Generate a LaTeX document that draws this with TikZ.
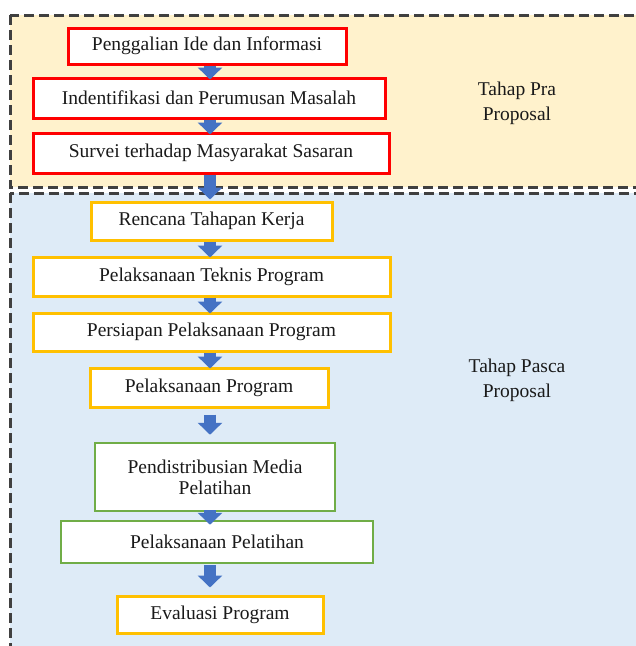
\documentclass[tikz,border=0pt]{standalone}
\usepackage{fontspec}
\setmainfont{Liberation Serif}
\usepackage{xcolor}
\usetikzlibrary{arrows.meta}
\tikzset{font={\fontsize{19.5pt}{21pt}\selectfont}}
\definecolor{prafill}{HTML}{FFF2CC}
\definecolor{pascafill}{HTML}{DEEBF7}
\definecolor{framegray}{HTML}{404040}
\definecolor{boxred}{HTML}{FF0000}
\definecolor{boxyellow}{HTML}{FFC000}
\definecolor{boxgreen}{HTML}{70AD47}
\definecolor{flowblue}{HTML}{4472C4}
\definecolor{inktext}{HTML}{1A1A1A}

\begin{document}
\begin{tikzpicture}[x=1pt,y=-1pt,
stagebox/.style={draw=#1,line width=3pt,fill=white,text=inktext,inner sep=0pt,align=center},
phaseframe/.style={draw=framegray,line width=3pt,dash pattern=on 10pt off 5pt},
phaselabel/.style={text=inktext,align=center,font={\fontsize{19.5pt}{25pt}\selectfont}},
flowarrow/.style={draw=flowblue,line width=12pt,-{Triangle[width=24pt,length=12pt]}}
]
\useasboundingbox (0,0) rectangle (636,646);
\clip (0,0) rectangle (636,646);
% tahap pra / pasca
\draw[phaseframe,fill=prafill] (10,15) rectangle (660,187);
\draw[phaseframe,fill=pascafill] (10,193) rectangle (660,670);
\node[phaselabel] (pra) at (517,103) {Tahap Pra\\Proposal};
\node[phaselabel] (pasca) at (517,380) {Tahap Pasca\\Proposal};

\coordinate (ax) at (210,0);

\node[stagebox=boxred,minimum width=278,minimum height=36] (b1) at (207,46) {Penggalian Ide dan Informasi};
\node[stagebox=boxred,minimum width=352,minimum height=40] (b2) at (209,98) {Indentifikasi dan Perumusan Masalah};
\node[stagebox=boxred,minimum width=356,minimum height=40] (b3) at (211,153) {Survei terhadap Masyarakat Sasaran};
\node[stagebox=boxyellow,minimum width=241,minimum height=38] (b4) at (211.5,221) {Rencana Tahapan Kerja};
\node[stagebox=boxyellow,minimum width=357,minimum height=39] (b5) at (211.5,276.5) {Pelaksanaan Teknis Program};
\node[stagebox=boxyellow,minimum width=357,minimum height=38] (b6) at (211.5,332) {Persiapan Pelaksanaan Program};
\node[stagebox=boxyellow,minimum width=238,minimum height=39] (b7) at (209,387.5) {Pelaksanaan Program};
\node[stagebox=boxgreen,line width=2.5pt,minimum width=240,minimum height=68] (b8) at (215,477) {Pendistribusian Media\\Pelatihan};
\node[stagebox=boxgreen,line width=2.5pt,minimum width=312,minimum height=42] (b9) at (217,542) {Pelaksanaan Pelatihan};
\node[stagebox=boxyellow,minimum width=206,minimum height=37] (b10) at (220,614.5) {Evaluasi Program};

\foreach \from/\to/\s/\t in {b1/b2/0/-3,b2/b3/0/-3,b3/b4/0/1,b4/b5/0/-2,b5/b6/0/-2,b6/b7/0/-2,b7/b8/6/7,b8/b9/-2/-5,b9/b10/1/7}
  \draw[flowarrow,shorten <=\s pt,shorten >=\t pt] (\from.south -| ax) -- (\to.north -| ax);
\end{tikzpicture}
\end{document}
